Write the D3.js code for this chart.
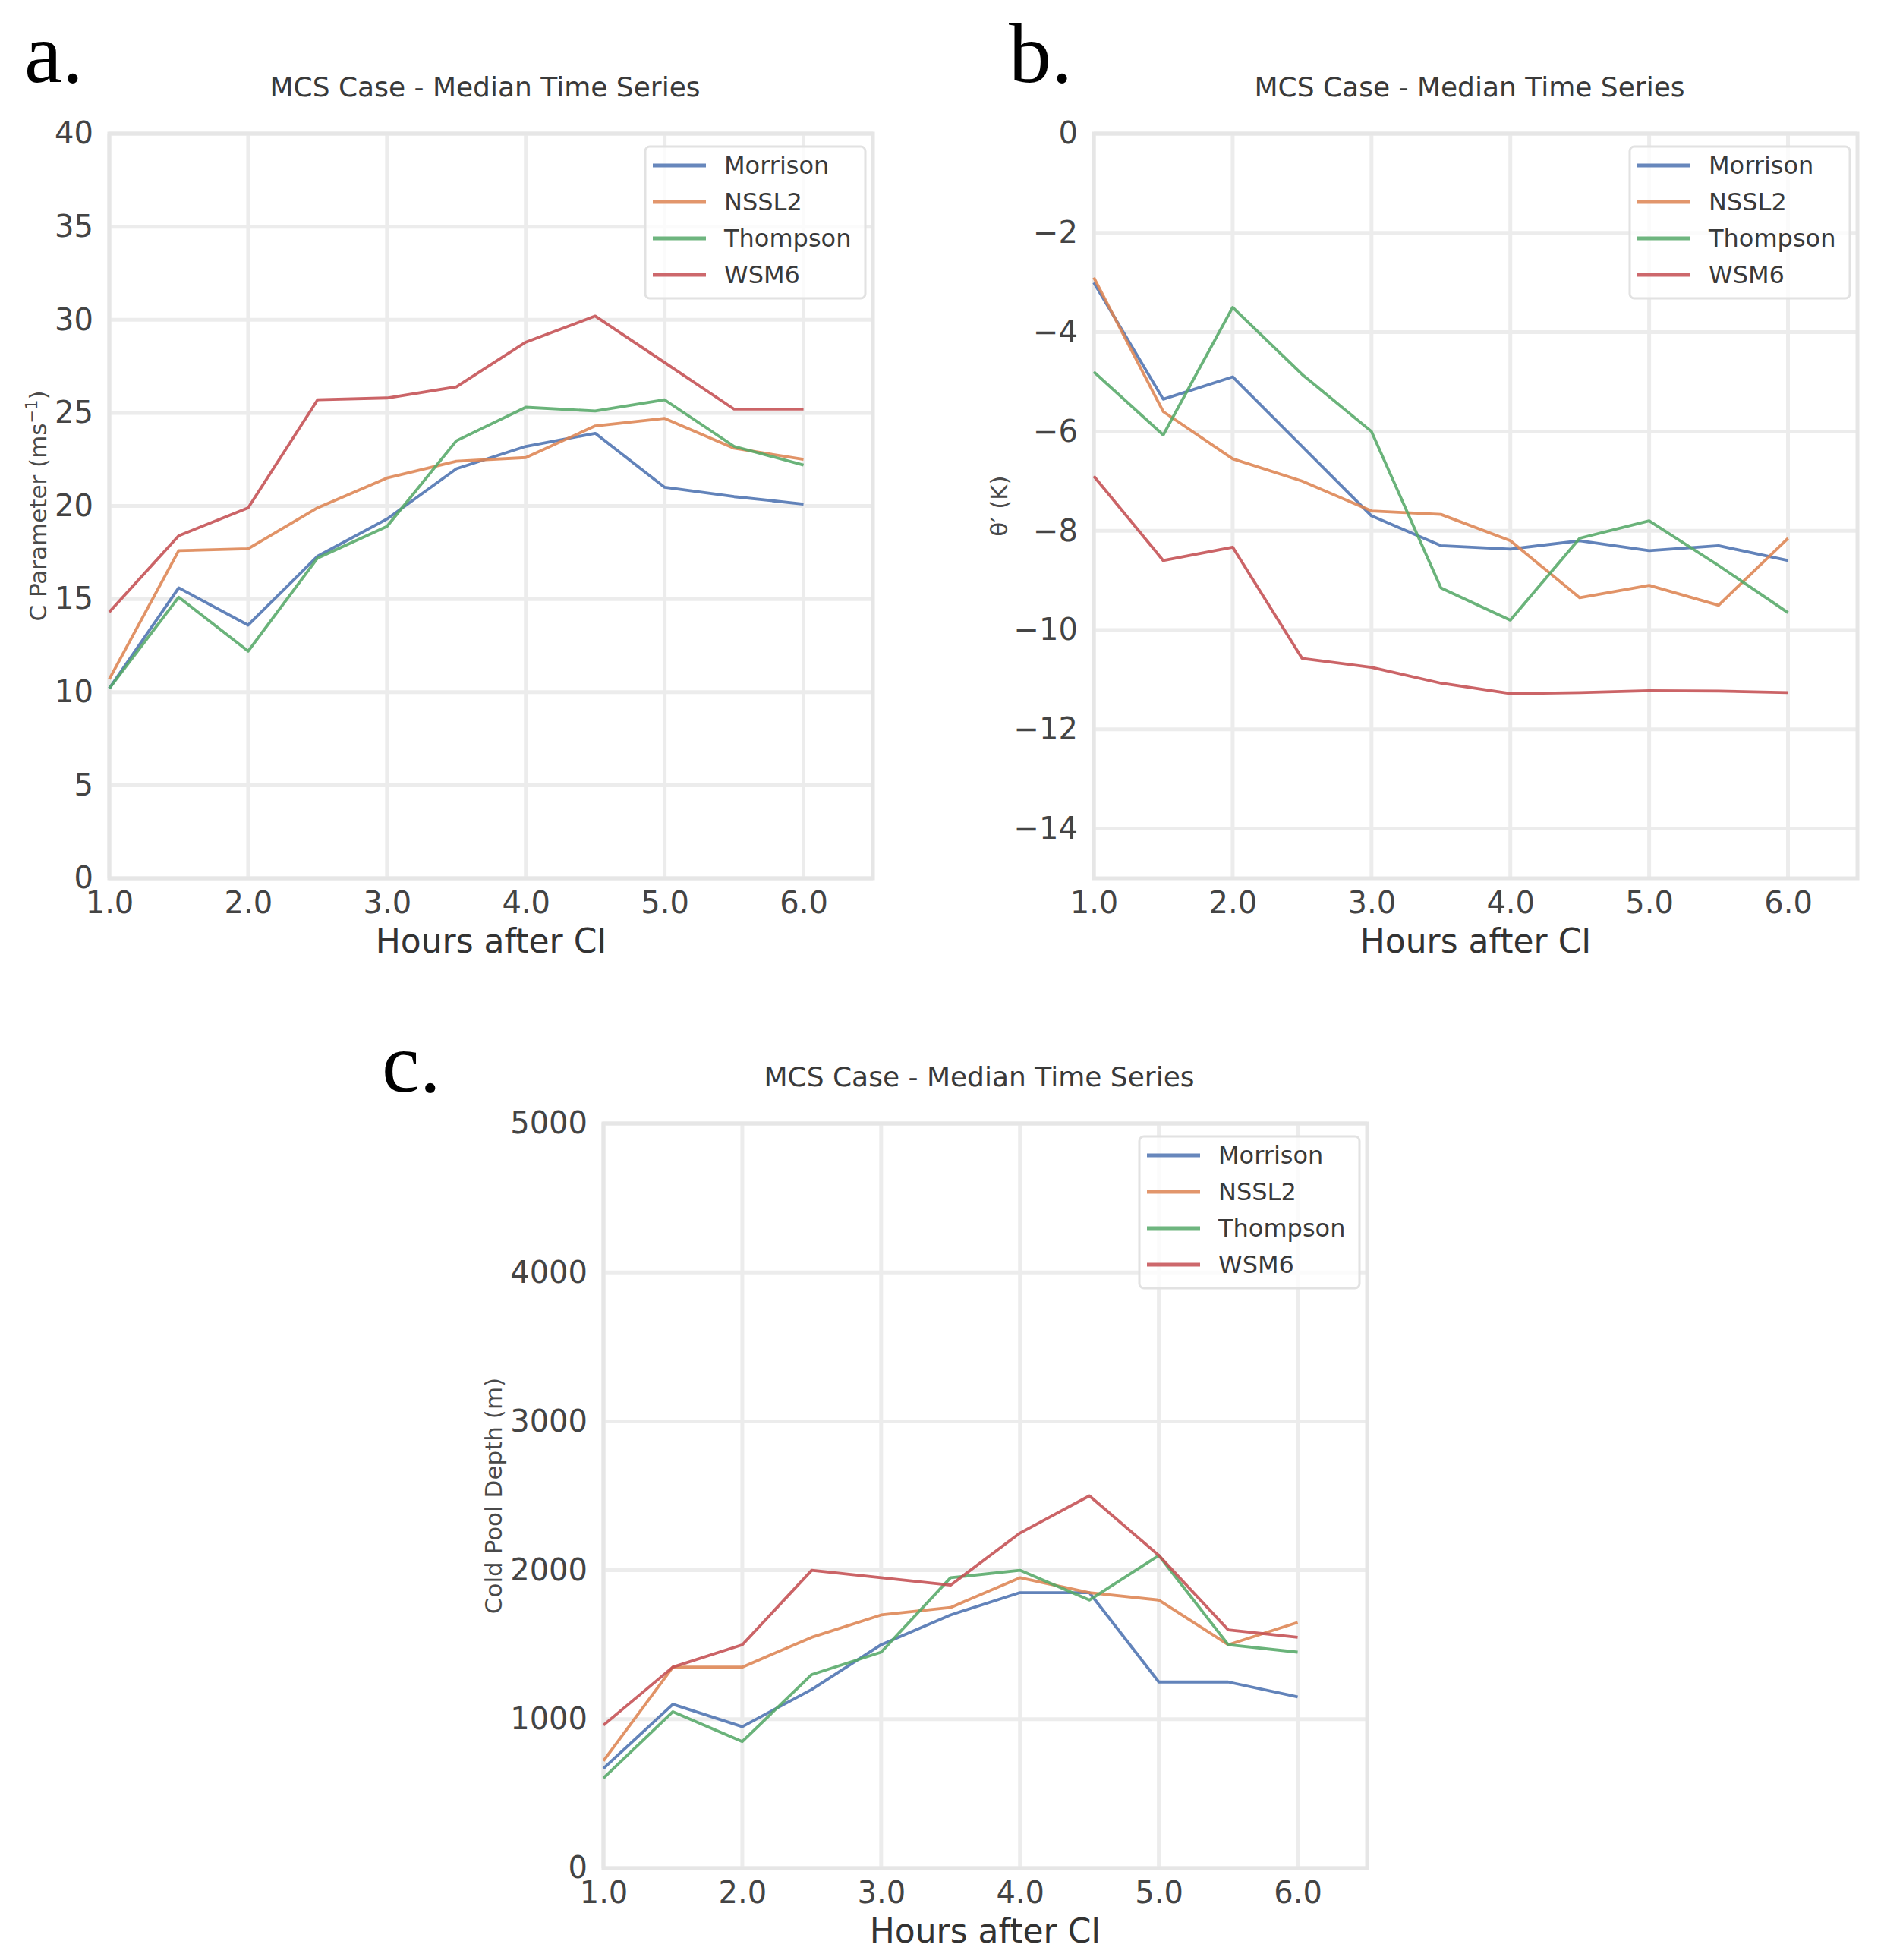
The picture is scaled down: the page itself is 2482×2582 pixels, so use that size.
<!DOCTYPE html>
<html lang="en">
<head>
  <meta charset="UTF-8">
  <title>MCS Case - Median Time Series</title>
  <script src="https://d3js.org/d3.v7.min.js"></script>
  <style>
    body { margin: 0; background: #fff; }
    svg { display: block; }
    text { font-family: "DejaVu Sans", sans-serif; }
    .tick text { fill: #444; font-size: 40px; }
    .title { fill: #3a3a3a; font-size: 36px; }
    .xlabel { fill: #333; font-size: 44px; }
    .ylabel { fill: #4a4a4a; font-size: 31px; }
    .legend text { fill: #3a3a3a; font-size: 32px; }
    .panel-tag { font-family: "Liberation Serif", "Times New Roman", serif; font-size: 112px; fill: #000; }
  </style>
</head>
<body>
  <script>
    // shared x values and legend entries
    const hours = [1.0, 1.5, 2.0, 2.5, 3.0, 3.5, 4.0, 4.5, 5.0, 5.5, 6.0];
    const schemes = ["Morrison", "NSSL2", "Thompson", "WSM6"];
    const xTicks = [1, 2, 3, 4, 5, 6];

    // panel a: C parameter (m s^-1)
    const cMorrison = [10.2, 15.6, 13.6, 17.3, 19.3, 22.0, 23.2, 23.9, 21.0, 20.5, 20.1];
    const cNSSL2    = [10.7, 17.6, 17.7, 19.9, 21.5, 22.4, 22.6, 24.3, 24.7, 23.1, 22.5];
    const cThompson = [10.2, 15.1, 12.2, 17.2, 18.9, 23.5, 25.3, 25.1, 25.7, 23.2, 22.2];
    const cWSM6     = [14.3, 18.4, 19.9, 25.7, 25.8, 26.4, 28.8, 30.2, 27.7, 25.2, 25.2];
    const cTicks = [0, 5, 10, 15, 20, 25, 30, 35, 40];

    // panel b: theta' (K)
    const thetaMorrison = [-3.0, -5.35, -4.9, -6.3, -7.7, -8.3, -8.37, -8.2, -8.4, -8.3, -8.6];
    const thetaNSSL2    = [-2.9, -5.6, -6.55, -7.0, -7.6, -7.67, -8.2, -9.35, -9.1, -9.5, -8.15];
    const thetaThompson = [-4.8, -6.07, -3.5, -4.85, -6.0, -9.15, -9.8, -8.15, -7.8, -8.7, -9.65];
    const thetaWSM6     = [-6.9, -8.6, -8.33, -10.57, -10.75, -11.07, -11.28, -11.26, -11.22, -11.23, -11.26];
    const thetaTicks = [0, -2, -4, -6, -8, -10, -12, -14];

    // panel c: cold pool depth (m)
    const depthMorrison = [670, 1100, 950, 1200, 1500, 1700, 1850, 1850, 1250, 1250, 1150];
    const depthNSSL2    = [720, 1350, 1350, 1550, 1700, 1750, 1950, 1850, 1800, 1500, 1650];
    const depthThompson = [605, 1050, 850, 1300, 1450, 1950, 2000, 1800, 2100, 1500, 1450];
    const depthWSM6     = [960, 1350, 1500, 2000, 1950, 1900, 2250, 2500, 2100, 1600, 1550];
    const depthTicks = [0, 1000, 2000, 3000, 4000, 5000];

    // seaborn "deep" colours
    const colors = ["#4C72B0", "#DD8452", "#55A868", "#C44E52"];

    const W = 2482, H = 2582;
    const plotW = 1006, plotH = 981;

    const panels = [
      { tag: "a.", tagX: 32, tagY: 108, left: 144, top: 176,
        series: [cMorrison, cNSSL2, cThompson, cWSM6],
        yDomain: [0, 40], yTicks: cTicks, yFmt: d3.format("d"),
        ylabel: "C Parameter (ms", ysup: "\u22121", ylabelX: 50 },
      { tag: "b.", tagX: 1329, tagY: 108, left: 1441, top: 176,
        series: [thetaMorrison, thetaNSSL2, thetaThompson, thetaWSM6],
        yDomain: [-15, 0], yTicks: thetaTicks, yFmt: d3.format("d"),
        ylabel: "\u03b8\u2032 (K)", ylabelX: 1316 },
      { tag: "c.", tagX: 503, tagY: 1438, left: 795, top: 1480,
        series: [depthMorrison, depthNSSL2, depthThompson, depthWSM6],
        yDomain: [0, 5000], yTicks: depthTicks, yFmt: d3.format("d"),
        ylabel: "Cold Pool Depth (m)", ylabelX: 650 }
    ];

    const svg = d3.select("body").append("svg")
      .attr("width", W)
      .attr("height", H);

    svg.append("rect").attr("width", W).attr("height", H).attr("fill", "#fff");

    panels.forEach(p => {
      const x = d3.scaleLinear().domain([1, 6.5]).range([0, plotW]);
      const y = d3.scaleLinear().domain(p.yDomain).range([plotH, 0]);

      const g = svg.append("g").attr("transform", `translate(${p.left},${p.top})`);

      // grid
      g.append("g").selectAll("line")
        .data(xTicks)
        .join("line")
        .attr("x1", d => x(d)).attr("x2", d => x(d))
        .attr("y1", 0).attr("y2", plotH)
        .attr("stroke", "#ececec").attr("stroke-width", 5);

      g.append("g").selectAll("line")
        .data(p.yTicks)
        .join("line")
        .attr("x1", 0).attr("x2", plotW)
        .attr("y1", d => y(d)).attr("y2", d => y(d))
        .attr("stroke", "#ececec").attr("stroke-width", 5);

      // spines
      g.append("rect")
        .attr("width", plotW).attr("height", plotH)
        .attr("fill", "none")
        .attr("stroke", "#e6e6e6").attr("stroke-width", 5);

      // axes
      const xAxis = d3.axisBottom(x)
        .tickValues(xTicks)
        .tickFormat(d3.format(".1f"))
        .tickSize(0)
        .tickPadding(18);
      g.append("g")
        .attr("transform", `translate(0,${plotH})`)
        .call(xAxis)
        .call(a => a.select(".domain").remove());

      const yAxis = d3.axisLeft(y)
        .tickValues(p.yTicks)
        .tickFormat(p.yFmt)
        .tickSize(0)
        .tickPadding(21);
      g.append("g")
        .call(yAxis)
        .call(a => a.select(".domain").remove());

      g.selectAll(".tick text").attr("font-family", null);

      // lines
      const line = d3.line()
        .x(d => x(d[0]))
        .y(d => y(d[1]));

      p.series.forEach((vals, i) => {
        g.append("path")
          .datum(hours.map((h, k) => [h, vals[k]]))
          .attr("d", line)
          .attr("fill", "none")
          .attr("stroke", colors[i])
          .attr("stroke-opacity", 0.88)
          .attr("stroke-width", 3.8)
          .attr("stroke-linejoin", "round");
      });

      // legend
      const boxW = 290, boxH = 200;
      const lg = g.append("g")
        .attr("class", "legend")
        .attr("transform", `translate(${plotW - 10 - boxW},17)`);
      lg.append("rect")
        .attr("width", boxW).attr("height", boxH)
        .attr("rx", 6)
        .attr("fill", "#fff").attr("fill-opacity", 0.8)
        .attr("stroke", "#e2e2e2").attr("stroke-width", 3);
      schemes.forEach((s, i) => {
        const yy = 25 + i * 48;
        lg.append("line")
          .attr("x1", 10).attr("x2", 80)
          .attr("y1", yy).attr("y2", yy)
          .attr("stroke", colors[i])
          .attr("stroke-opacity", 0.85)
          .attr("stroke-width", 5);
        lg.append("text")
          .attr("x", 104).attr("y", yy)
          .attr("dy", "0.35em")
          .text(s);
      });

      // title and labels
      svg.append("text")
        .attr("class", "title")
        .attr("x", p.left + plotW / 2 - 8)
        .attr("y", p.top - 49)
        .attr("text-anchor", "middle")
        .text("MCS Case - Median Time Series");

      svg.append("text")
        .attr("class", "xlabel")
        .attr("x", p.left + plotW / 2)
        .attr("y", p.top + plotH + 98)
        .attr("text-anchor", "middle")
        .text("Hours after CI");

      const yl = svg.append("text")
        .attr("class", "ylabel")
        .attr("transform", `translate(${p.ylabelX},${p.top + plotH / 2}) rotate(-90)`)
        .attr("text-anchor", "middle")
        .attr("dy", "0.35em")
        .text(p.ylabel);
      if (p.ysup) {
        yl.append("tspan")
          .attr("baseline-shift", "super")
          .attr("font-size", "21px")
          .text(p.ysup);
        yl.append("tspan").text(")");
      }

      svg.append("text")
        .attr("class", "panel-tag")
        .attr("x", p.tagX)
        .attr("y", p.tagY)
        .text(p.tag);
    });
  </script>
</body>
</html>
